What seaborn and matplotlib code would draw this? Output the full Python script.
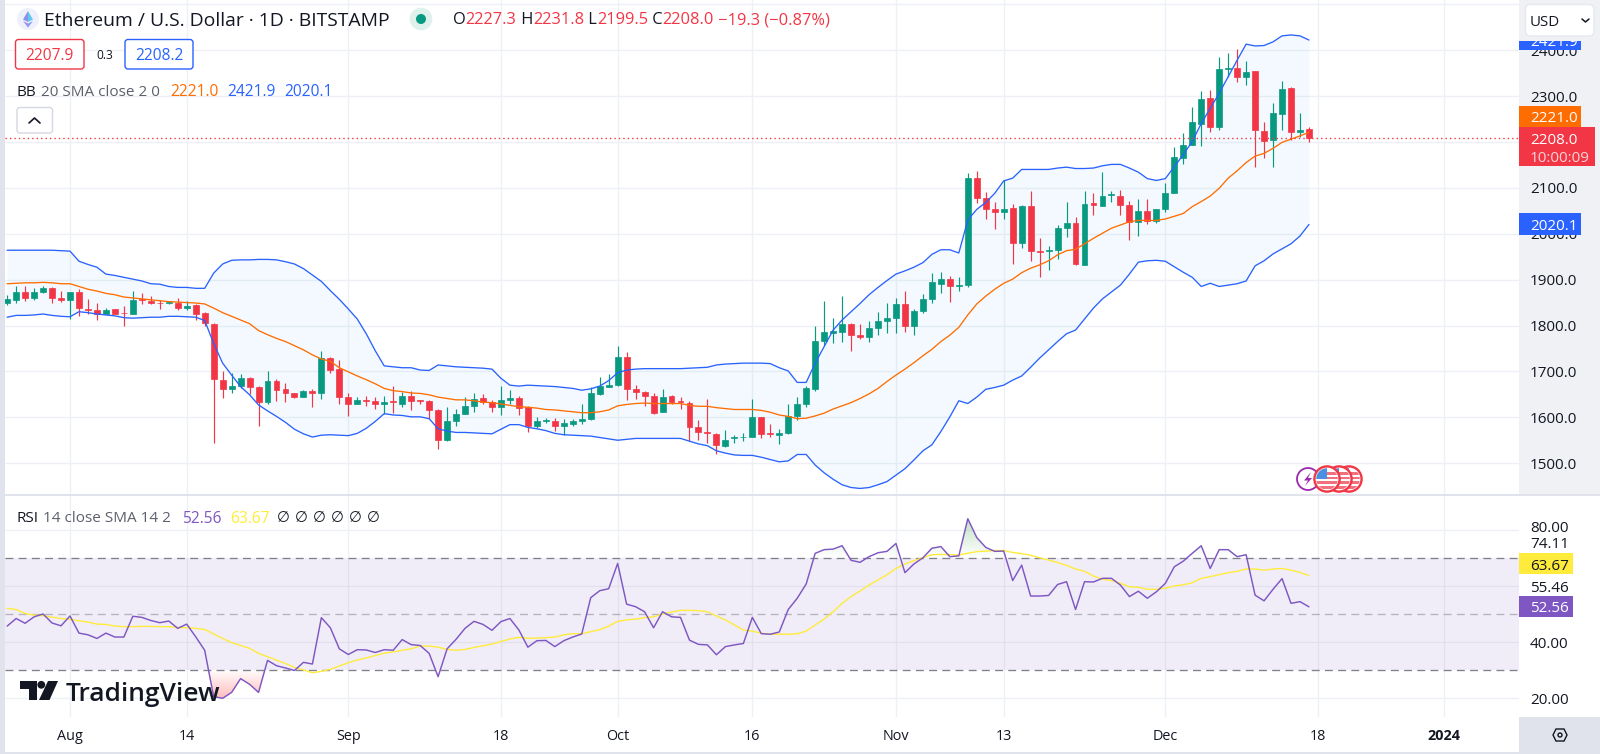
import numpy as np
import pandas as pd
import matplotlib
matplotlib.use("Agg")
import matplotlib.pyplot as plt
import matplotlib.dates as mdates
from matplotlib.patches import Rectangle, FancyBboxPatch, Circle, Polygon
from matplotlib.path import Path
import seaborn as sns

SYMBOL = "Ethereum / U.S. Dollar · 1D · BITSTAMP"
opens = [1849,1856,1872,1861,1873,1881,1861,
 1855,1873,1837,1833,1826,1835,1828,1826,1857,1854,
 1850,1849,1849,1839,1844,1827,1804,1681,1661,1669,
 1686,1667,1634,1680,1661,1653,1645,1658,1652,1730,
 1706,1645,1629,1638,1635,1629,1635,1630,1647,1637,
 1636,1616,1550,1592,1608,1625,1641,1633,1623,1637,
 1641,1623,1582,1593,1593,1580,1585,1593,1596,1651,
 1667,1670,1732,1661,1656,1646,1612,1646,1636,1632,
 1578,1567,1564,1538,1554,1556,1557,1600,1565,1562,
 1565,1603,1628,1662,1766,1784,1786,1803,1779,1775,
 1795,1810,1816,1846,1800,1832,1858,1890,1902,1885,
 1888,2122,2078,2053,2047,2055,1980,2060,1963,1962,
 1964,2012,2023,1932,2066,2061,2084,2083,2063,2026,
 2050,2028,2053,2088,2166,2193,2240,2296,2233,2359,
 2361,2341,2354,2224,2204,2261,2318,2221,2227.3]
closes = [1857,1872,1861,1873,1881,1861,1855,
 1873,1839,1833,1826,1834,1826,1827,1856,1856,1849,
 1848,1851,1839,1843,1825,1805,1684,1661,1669,1685,
 1667,1634,1679,1660,1652,1645,1658,1652,1730,1703,
 1645,1629,1637,1636,1629,1634,1634,1646,1636,1636,
 1616,1551,1593,1608,1625,1640,1633,1623,1637,1642,
 1621,1582,1593,1594,1580,1587,1593,1596,1652,1668,
 1670,1731,1662,1656,1646,1609,1644,1633,1634,1579,
 1567,1566,1539,1551,1556,1558,1600,1564,1564,1566,
 1603,1628,1663,1766,1785,1787,1803,1779,1776,1795,
 1810,1816,1847,1800,1832,1857,1895,1902,1885,1888,
 2121,2077,2053,2047,2053,1979,2061,1962,1961,1965,
 2012,2023,1933,2065,2063,2082,2086,2063,2026,2050,
 2028,2054,2089,2167,2193,2243,2294,2233,2359,2360,
 2341,2352,2225,2201,2262,2316,2221,2227,2208]
highs = [1867,1887,1886,1881,1886,1883,1875,
 1874,1879,1857,1849,1838,1836,1843,1875,1870,1865,
 1856,1854,1860,1854,1847,1830,1806,1700,1696,1694,
 1687,1669,1701,1683,1674,1654,1660,1662,1745,1731,
 1725,1653,1644,1647,1645,1647,1669,1656,1658,1638,
 1638,1617,1622,1618,1644,1652,1651,1638,1668,1660,
 1646,1625,1601,1598,1598,1596,1596,1630,1667,1687,
 1694,1755,1742,1670,1658,1654,1662,1648,1644,1636,
 1594,1639,1565,1572,1562,1565,1639,1601,1585,1575,
 1630,1644,1668,1799,1854,1817,1865,1805,1803,1810,
 1830,1848,1859,1875,1835,1869,1914,1916,1908,1905,
 2132,2137,2090,2068,2116,2064,2063,2092,1991,1973,
 2018,2068,2036,2092,2089,2134,2092,2095,2071,2076,
 2076,2054,2111,2189,2219,2275,2311,2312,2384,2393,
 2403,2377,2354,2243,2284,2333,2319,2262,2231.8]
lows = [1845,1850,1854,1856,1870,1850,1851,
 1815,1821,1825,1812,1825,1825,1800,1825,1846,1846,
 1837,1846,1834,1834,1812,1798,1544,1642,1654,1663,
 1650,1581,1630,1636,1634,1643,1644,1623,1639,1696,
 1630,1603,1628,1625,1617,1608,1609,1622,1615,1629,
 1596,1531,1549,1582,1607,1611,1630,1612,1605,1628,
 1605,1569,1576,1588,1571,1562,1580,1585,1595,1648,
 1665,1668,1637,1639,1625,1608,1611,1630,1618,1548,
 1551,1545,1520,1536,1544,1549,1556,1554,1556,1542,
 1564,1594,1623,1658,1758,1761,1765,1745,1771,1765,
 1779,1783,1784,1786,1779,1827,1850,1871,1852,1876,
 1883,2066,2033,2010,2032,1934,1968,1941,1906,1920,
 1945,1993,1932,1931,2041,2060,2069,2040,1986,1996,
 2021,2023,2048,2088,2152,2193,2191,2222,2225,2341,
 2331,2325,2146,2166,2146,2227,2204,2211,2199.5]
bb_upper = [1964,1964,1964,1964,1964,1964,1963,
 1962,1940,1933,1927,1912,1909,1905,1901,1897,1891,
 1890,1885,1883,1883,1881,1881,1914,1934,1942,1943,
 1943,1944,1944,1943,1939,1934,1924,1910,1896,1876,
 1857,1836,1814,1782,1745,1712,1710,1708,1708,1703,
 1702,1714,1712,1710,1709,1708,1707,1705,1685,1670,
 1668,1670,1669,1668,1667,1665,1663,1659,1662,1668,
 1680,1697,1703,1705,1706,1706,1706,1706,1706,1707,
 1708,1709,1714,1716,1717,1718,1718,1718,1717,1708,
 1701,1676,1676,1718,1754,1790,1812,1830,1848,1867,
 1883,1898,1912,1919,1927,1937,1955,1965,1965,1958,
 2030,2053,2068,2088,2115,2121,2140,2140,2140,2140,
 2143,2145,2142,2142,2143,2148,2151,2151,2143,2134,
 2120,2116,2120,2146,2172,2201,2240,2273,2306,2342,
 2378,2413,2409,2410,2418,2431,2433,2431,2421.9]
bb_mid = [1891,1892,1893,1893,1894,1893,1891,
 1891,1885,1879,1875,1870,1867,1862,1860,1858,1856,
 1854,1852,1851,1850,1849,1847,1838,1828,1820,1812,
 1804,1789,1780,1772,1765,1756,1747,1736,1727,1722,
 1708,1699,1690,1682,1673,1663,1658,1656,1653,1652,
 1649,1644,1641,1638,1638,1636,1633,1632,1629,1626,
 1623,1622,1620,1617,1616,1614,1612,1610,1610,1612,
 1616,1625,1628,1630,1631,1630,1630,1630,1630,1626,
 1624,1624,1621,1619,1617,1617,1617,1615,1611,1605,
 1602,1597,1598,1603,1609,1618,1625,1632,1641,1651,
 1663,1678,1692,1705,1719,1734,1748,1765,1779,1796,
 1823,1847,1864,1879,1892,1901,1915,1925,1932,1941,
 1954,1963,1966,1978,1990,2001,2012,2019,2026,2029,
 2029,2029,2032,2038,2044,2059,2070,2082,2099,2121,
 2137,2155,2169,2175,2186,2199,2206,2213,2221.0]
bb_lower = [1818,1822,1822,1823,1825,1822,1820,
 1819,1830,1828,1825,1823,1821,1817,1816,1817,1818,
 1818,1820,1820,1819,1818,1811,1761,1718,1692,1667,
 1649,1627,1614,1602,1589,1574,1564,1557,1561,1562,
 1561,1560,1565,1576,1591,1608,1605,1604,1601,1601,
 1597,1575,1570,1567,1567,1566,1565,1564,1574,1584,
 1584,1578,1575,1571,1565,1562,1561,1560,1559,1556,
 1553,1550,1552,1554,1554,1554,1554,1554,1554,1548,
 1542,1538,1527,1522,1518,1517,1517,1513,1508,1503,
 1505,1519,1519,1496,1479,1465,1453,1447,1445,1447,
 1453,1460,1474,1488,1507,1527,1540,1569,1601,1636,
 1630,1644,1661,1665,1670,1681,1690,1709,1729,1747,
 1765,1782,1790,1814,1838,1858,1873,1888,1912,1938,
 1941,1942,1940,1928,1916,1905,1885,1892,1885,1888,
 1891,1897,1930,1941,1956,1967,1978,1995,2020.1]
rsi = [45.7,48.4,46.7,49.0,50.0,46.8,45.8,
 49.3,43.2,42.6,41.3,43.2,41.8,41.8,49.2,48.8,47.7,
 46.9,47.5,44.9,46.4,41.9,37.1,20.6,20.0,22.1,27.0,
 25.0,22.1,33.5,31.6,30.8,29.9,32.8,32.2,48.7,45.1,
 37.6,35.6,37.3,37.2,36.3,37.3,37.1,40.9,39.1,38.8,
 36.0,27.7,37.6,41.0,44.9,47.4,46.3,44.2,47.3,48.4,
 44.3,38.2,40.5,40.6,38.4,40.5,41.8,42.9,55.8,58.3,
 59.0,68.0,53.5,52.6,50.8,45.1,50.8,49.0,48.8,40.7,
 39.2,39.0,35.5,38.4,39.0,39.5,48.8,43.0,42.8,43.6,
 51.6,55.6,60.7,71.6,72.9,73.1,74.3,69.1,68.4,70.4,
 71.8,72.3,75.1,64.7,67.8,70.0,73.4,74.0,70.4,70.7,
 83.9,77.2,73.7,72.3,72.4,61.9,67.4,56.4,56.4,56.6,
 60.5,61.5,51.6,61.5,61.4,62.7,62.7,60.3,56.2,58.1,
 55.6,57.9,60.9,66.8,68.8,71.6,74.3,66.2,72.9,72.9,
 70.4,71.1,56.7,54.7,58.8,62.6,53.8,54.4,52.56]
rsi_ma = [52.0,51.6,50.2,49.6,49.4,48.9,48.4,
 48.1,47.6,47.1,46.4,46.3,45.7,45.5,45.5,45.6,45.6,
 45.5,45.5,45.2,45.1,44.9,44.5,42.9,41.3,39.8,38.8,
 37.8,36.0,34.8,33.6,32.4,31.0,30.1,29.1,29.6,30.3,
 31.5,32.7,33.6,34.4,35.2,36.1,36.5,37.1,37.6,38.6,
 38.6,38.2,37.4,37.1,37.4,38.1,38.7,39.3,40.2,41.1,
 41.7,41.4,41.4,41.6,41.8,42.6,43.0,43.0,43.7,44.4,
 45.7,47.4,47.9,48.2,48.7,49.0,50.0,50.7,51.3,51.3,
 51.2,50.8,49.3,47.9,46.1,44.3,43.9,43.2,42.8,42.8,
 42.8,43.0,43.9,46.1,48.2,50.8,53.8,56.2,58.2,60.3,
 62.1,64.0,66.2,67.8,69.0,70.0,71.1,71.2,71.1,71.0,
 71.6,72.2,72.4,72.6,72.6,71.9,71.5,70.9,70.0,69.2,
 68.3,67.3,66.0,65.2,63.5,62.4,61.9,60.9,59.7,59.5,
 58.8,58.8,59.2,60.0,60.4,61.1,62.7,63.3,64.0,64.7,
 65.2,66.0,66.0,65.6,66.0,66.2,65.6,64.8,63.67]
price_ticks = [1500, 1600, 1700, 1800, 1900, 2000, 2100, 2200, 2300, 2400, 2500]
price_tick_labels = ["1500.0","1600.0","1700.0","1800.0","1900.0","2000.0","2100.0","","2300.0","2400.0",""]
rsi_ticks = [20, 40, 60, 80]
time_ticks = ["2023-08-01","2023-08-14","2023-09-01","2023-09-18","2023-10-01","2023-10-16",
              "2023-11-01","2023-11-13","2023-12-01","2023-12-18","2024-01-01"]
time_labels = ["Aug","14","Sep","18","Oct","16","Nov","13","Dec","18","2024"]
LAST_CLOSE = 2208.0

GREEN, RED = "#089981", "#F23645"
BLUE, ORANGE, PURPLE, YELLOW = "#2962FF", "#FF6D00", "#7E57C2", "#FFEB3B"
GRID = "#eef0f5"
INK, GREY = "#131722", "#5d606b"

sns.set_theme(style="white")
FONT = ["Open Sans", "DejaVu Sans"]
plt.rcParams["font.family"] = FONT
plt.rcParams["axes.unicode_minus"] = False

W, H = 1600, 754
fig = plt.figure(figsize=(W / 100, H / 100), dpi=100, facecolor="white")

def box(x0, y0, x1, y1):
    return [x0 / W, 1 - y1 / H, (x1 - x0) / W, (y1 - y0) / H]

ax = fig.add_axes(box(5, 0, 1519, 495), zorder=2)
ax2 = fig.add_axes(box(5, 495, 1519, 717), zorder=2, sharex=ax)
over = fig.add_axes([0, 0, 1, 1], zorder=5)
over.set_xlim(0, W); over.set_ylim(H, 0); over.axis("off"); over.patch.set_alpha(0)

# chrome behind the axes
fig.add_artist(Rectangle((1519 / W, 1 - 495 / H), 81 / W, 495 / H, transform=fig.transFigure,
                         facecolor="#f0f1f5", edgecolor="none", zorder=1))
fig.add_artist(Rectangle((1519 / W, 1 - 752 / H), 81 / W, 35 / H, transform=fig.transFigure,
                         facecolor="#e0e3eb", edgecolor="none", zorder=1))

dates = pd.date_range("2023-07-25", periods=len(closes), freq="D")
df = pd.DataFrame({"date": dates, "open": opens, "high": highs, "low": lows, "close": closes,
                   "upper": bb_upper, "mid": bb_mid, "lower": bb_lower,
                   "rsi": rsi, "rsi_ma": rsi_ma})
xn = mdates.date2num(df["date"])
colors = np.where(df["close"] >= df["open"], GREEN, RED)

# --- price pane
ax.fill_between(xn, df["lower"], df["upper"], color="#2196F3", alpha=0.05, lw=0, zorder=1)
ax.vlines(xn, df["low"], df["high"], colors=colors, lw=0.85, zorder=3)
ax.bar(xn, (df["close"] - df["open"]).abs(), bottom=df[["open", "close"]].min(axis=1),
       width=0.66, color=colors, edgecolor=colors, linewidth=0.5, zorder=4)
for col, c in [("upper", BLUE), ("lower", BLUE), ("mid", ORANGE)]:
    sns.lineplot(data=df, x="date", y=col, ax=ax, color=c, linewidth=0.95, errorbar=None,
                 legend=False, zorder=5)
ax.axhline(LAST_CLOSE, color=RED, lw=1.0, ls=(0, (1, 2.2)), zorder=6)
ax.set_ylim(2300 - 399 / 0.459, 2300 + 96 / 0.459)
ax.set_yticks(price_ticks, price_tick_labels)

# --- RSI pane
ax2.axhspan(30, 70, color=PURPLE, alpha=0.1, lw=0, zorder=1)
for lvl, a in [(70, 0.95), (50, 0.5), (30, 0.95)]:
    ax2.axhline(lvl, color="#787B86", lw=0.95, ls=(0, (6, 4)), alpha=a, zorder=2)
ylim2 = (13.35, 92.35)

def grad(cond, base, rgb, top_alpha, v_far):
    y = df["rsi"].to_numpy(float)
    poly = ax2.fill_between(xn, base, y, where=cond(y), interpolate=True, alpha=0)
    paths = poly.get_paths()
    if not paths:
        return
    comp = Path.make_compound_path(*paths)
    n = 64
    img = np.zeros((n, 1, 4))
    img[..., :3] = matplotlib.colors.to_rgb(rgb)
    img[:, 0, 3] = np.linspace(top_alpha, 0, n)
    lo, hi = (base, v_far) if v_far > base else (v_far, base)
    if v_far < base:
        img = img[::-1]
    im = ax2.imshow(img, extent=[xn[0], xn[-1], lo, hi], aspect="auto", origin="upper", zorder=2.5)
    im.set_clip_path(comp, transform=ax2.transData)

grad(lambda y: y >= 70, 70, "#4CAF50", 0.38, 85)
grad(lambda y: y <= 30, 30, "#FF5252", 0.38, 20)
sns.lineplot(data=df, x="date", y="rsi_ma", ax=ax2, color=YELLOW, linewidth=1.0, errorbar=None,
             legend=False, zorder=4)
sns.lineplot(data=df, x="date", y="rsi", ax=ax2, color=PURPLE, linewidth=1.05, errorbar=None,
             legend=False, zorder=5)
ax2.set_ylim(*ylim2)
ax2.set_yticks(rsi_ticks, ["" for _ in rsi_ticks])

# --- shared axis styling
t0 = mdates.date2num(pd.Timestamp("2023-08-01"))
ax.set_xlim(t0 - 65 / 8.978, t0 + 1449 / 8.978)
tn = mdates.date2num(pd.to_datetime(time_ticks))
ax2.set_xticks(tn, time_labels)
ax.tick_params(axis="x", labelbottom=False, length=0)
ax2.tick_params(axis="x", length=0, pad=9, labelsize=10.4, colors=INK)
for lab in ax2.get_xticklabels():
    if lab.get_text() == "2024":
        lab.set_fontweight("bold")
for a in (ax, ax2):
    a.set_xlabel(""); a.set_ylabel("")
    a.yaxis.tick_right()
    a.grid(True, color=GRID, lw=1.0, zorder=0)
    a.set_axisbelow(True)
    for s in a.spines.values():
        s.set_visible(False)
ax.tick_params(axis="y", length=0, pad=8, labelsize=11, colors=INK)
ax2.tick_params(axis="y", length=0)

# --- overlay chrome
def T(x, y, s, size=10.6, color=INK, ha="left", va="center", **kw):
    return over.text(x, y + 4, s, fontsize=size, color=color, ha=ha, va=va, **kw)

def rbox(x0, y0, x1, y1, fc, ec, lw=1.0, r=3, z=3):
    p = FancyBboxPatch((x0 + r, y0 + r), x1 - x0 - 2 * r, y1 - y0 - 2 * r,
                       boxstyle=f"round,pad={r},rounding_size={r}", fc=fc, ec=ec, lw=lw, zorder=z)
    over.add_patch(p)

def rect(x0, y0, x1, y1, fc, z=2):
    over.add_patch(Rectangle((x0, y0), x1 - x0, y1 - y0, fc=fc, ec="none", zorder=z))

rect(0, 0, 5, 754, "#e0e3eb")
rect(0, 752, 1600, 754, "#e0e3eb")
rect(5, 494.2, 1600, 496, "#e0e3eb")

# header
over.add_patch(Circle((28, 19), 11, fc="#eef0fb", ec="none"))
over.add_patch(Polygon([(28, 11), (23, 19.5), (28, 22)], fc="#8a92e8", ec="none", zorder=3))
over.add_patch(Polygon([(28, 11), (33, 19.5), (28, 22)], fc="#62c9ec", ec="none", zorder=3))
over.add_patch(Polygon([(23, 21), (28, 27.5), (28, 23.5)], fc="#a28bea", ec="none", zorder=3))
over.add_patch(Polygon([(33, 21), (28, 27.5), (28, 23.5)], fc="#7fa0ee", ec="none", zorder=3))
T(44, 17, SYMBOL, size=13.95)
over.add_patch(Circle((421, 19), 11.3, fc="#dff1ed", ec="none"))
over.add_patch(Circle((421, 19), 5, fc=GREEN, ec="none", zorder=3))

rend = fig.canvas.get_renderer()
x = 453
for s, c in [("O", INK), ("2227.3", RED), (" H", INK), ("2231.8", RED), (" L", INK), ("2199.5", RED),
             (" C", INK), ("2208.0", RED), (" −19.3 (−0.87%)", RED)]:
    t = T(x, 16.5, s, size=11.8, color=c)
    x = t.get_window_extent(rend).x1

rbox(15.5, 39.5, 84, 69, "white", RED)
T(49.7, 51.5, "2207.9", size=11.2, color=RED, ha="center")
T(104.5, 51.5, "0.3", size=8.6, color=INK, ha="center")
rbox(125, 39.5, 193, 69, "white", BLUE)
T(159, 51.5, "2208.2", size=11.2, color=BLUE, ha="center")

t = T(16, 88, "BB", size=11)
T(t.get_window_extent(rend).x1 + 5, 88, "20 SMA close 2 0", size=11, color=GREY)
T(170, 88, "2221.0", size=11.2, color=ORANGE)
T(227, 88, "2421.9", size=11.2, color=BLUE)
T(284, 88, "2020.1", size=11.2, color=BLUE)
rbox(17, 107.5, 52.5, 133, "white", "#d5d8e0")
over.plot([29, 34.5, 40], [123, 118, 123], color=INK, lw=1.2, zorder=4, solid_capstyle="round")

t = T(16, 515, "RSI", size=11)
T(t.get_window_extent(rend).x1 + 5, 515, "14 close SMA 14 2", size=11, color=GREY)
T(182, 515, "52.56", size=11.2, color=PURPLE)
T(230, 515, "63.67", size=11.2, color=YELLOW)
for xx in (283, 301, 319, 337, 355, 373):
    T(xx, 515, "∅", size=10.6, ha="center")

# right scale labels (price)
rect(1519, 29, 1581, 50, BLUE)
T(1530, 38, "2421.9", size=11, color="white")
rect(1519, 0, 1600, 41, "#f0f1f5", z=3)
rbox(1525.5, 4.5, 1594, 36, "white", "#e6e8ee", r=5, z=4)
T(1530, 19, "USD", size=10.8, zorder=5)
over.plot([1582, 1585.5, 1589], [19, 22, 19], color=INK, lw=1.1, zorder=5)
rect(1519, 106, 1581, 128, ORANGE)
T(1530, 115, "2221.0", size=11, color="white", fontweight="medium", zorder=4)
rect(1519, 127, 1595, 166, RED, z=3)
T(1530, 137, "2208.0", size=11, color="white", fontweight="medium", zorder=4)
T(1530, 154, "10:00:09", size=11, color="#fbd4d9", zorder=4)
rect(1519, 213, 1581, 234.5, BLUE)
T(1530, 222, "2020.1", size=11, color="white", fontweight="medium", zorder=4)

# right scale labels (RSI)
T(1530, 525, "80.00", size=11, zorder=2)
rect(1519, 533, 1600, 553, "white", z=3)
T(1530, 541, "74.11", size=11, zorder=4)
rect(1519, 553, 1573, 574, YELLOW, z=3)
T(1530, 562, "63.67", size=11, zorder=4)
T(1530, 584, "55.46", size=11, zorder=4)
rect(1519, 596, 1573, 617, PURPLE, z=3)
T(1530, 605, "52.56", size=11, color="white", zorder=4)
T(1530, 640, "40.00", size=11, zorder=4)
T(1530, 696.5, "20.00", size=11, zorder=4)

# settings hexagon
over.add_patch(Polygon([(1553, 735), (1556, 729), (1564, 729), (1567, 735), (1564, 741), (1556, 741)],
                       closed=True, fc="none", ec=INK, lw=1.0, zorder=4))
over.add_patch(Circle((1560, 735), 2, fc="none", ec=INK, lw=1.0, zorder=4))

# TradingView watermark
over.add_patch(Polygon([(20, 681), (37, 681), (37, 700), (28.5, 700), (28.5, 689), (20, 689)],
                       fc="#131722", ec="none", zorder=4))
over.add_patch(Circle((41.3, 684.8), 3.9, fc="#131722", ec="none", zorder=4))
over.add_patch(Polygon([(48, 681), (58, 681), (49.5, 700), (39, 700)], fc="#131722", ec="none", zorder=4))
T(66, 690.5, "TradingView", size=19, color="#131722", fontweight="semibold", zorder=5)

# event markers
over.add_patch(Circle((1308, 479), 11, fc="white", ec="#9C27B0", lw=1.3, zorder=3))
over.add_patch(Polygon([(1311, 472), (1304, 480.5), (1308, 480.5), (1305, 486), (1312, 478), (1308, 478)],
                       fc="#9C27B0", ec="none", zorder=4))
for cx, z in [(1349, 4), (1339, 5), (1327, 6)]:
    over.add_patch(Circle((cx, 479), 12.6, fc="white", ec=RED, lw=1.7, zorder=z))
    clip = Circle((cx, 479), 10.8, transform=over.transData)
    parts = [(cx - 11, 481, 22, 3, "#f0707c"), (cx - 11, 486, 22, 3, "#f0707c"),
             (cx, 472, 11, 2.6, "#f0707c"), (cx, 476.5, 11, 2.6, "#f0707c"),
             (cx - 11, 468, 11, 11, "#4a90e2")]
    for px, py, pw, ph, col in parts:
        r = Rectangle((px, py), pw, ph, fc=col, ec="none", zorder=z + 0.1)
        over.add_patch(r)
        r.set_clip_path(clip)

fig.savefig("out.png", dpi=100)
